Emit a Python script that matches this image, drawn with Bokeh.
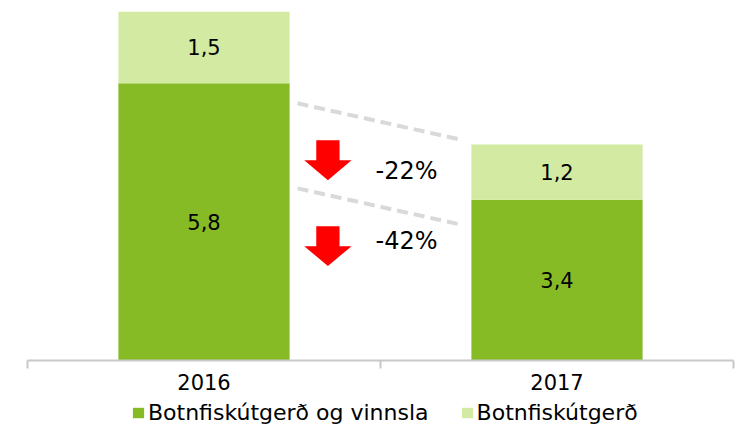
from bokeh.plotting import figure
from bokeh.layouts import column
from bokeh.models import Range1d, FixedTicker, Legend, LegendItem, ColumnDataSource
from bokeh.core.properties import value
from bokeh.embed import file_html
from bokeh.resources import INLINE

# ---- data ----
years = ["2016", "2017"]
vinnsla = [5.8, 3.36]      # Botnfiskútgerð og vinnsla
utgerd = [1.5, 1.16]       # Botnfiskútgerð
series_names = ["Botnfiskútgerð og vinnsla", "Botnfiskútgerð"]
change_labels = ["-22%", "-42%"]

# ---- annotation geometry (data units) ----
arrow_x = 0.851
arrow_half_shaft = 0.033
arrow_half_head = 0.067
arrows = [(4.607, 4.189, 3.771), (2.810, 2.392, 1.975)]  # top, head start, tip
change_x = 0.986
change_y = [3.96, 2.49]
dash_x = (0.765, 1.235)
dash_y = [(5.38, 4.607), (3.60, 2.83)]

DARK = "#87BB26"
LIGHT = "#D3EAA2"
COLORS = [DARK, LIGHT]
FONT = "DejaVu Sans"

totals = [a + b for a, b in zip(vinnsla, utgerd)]
xpos = [i + 0.5 for i in range(len(years))]

p = figure(width=735, height=399, output_backend="svg", toolbar_location=None,
           x_range=Range1d(0, len(years)), y_range=Range1d(0, max(totals)),
           min_border_left=27, min_border_right=2, min_border_top=11, min_border_bottom=39)
p.outline_line_color = None
p.grid.visible = False
p.yaxis.visible = False

src = ColumnDataSource(dict(x=xpos, vinnsla=vinnsla, utgerd=utgerd))
p.vbar_stack(["vinnsla", "utgerd"], x="x", width=0.485, source=src,
             color=COLORS, line_color=None)

# value labels
fmt = lambda v: f"{v:.1f}".replace(".", ",")
lab_src = ColumnDataSource(dict(
    x=xpos + xpos,
    y=[v / 2 for v in vinnsla] + [a + b / 2 for a, b in zip(vinnsla, utgerd)],
    t=[fmt(v) for v in vinnsla] + [fmt(v) for v in utgerd]))
p.text(x="x", y="y", text="t", source=lab_src, text_align="center", text_baseline="middle",
       text_font=value(FONT), text_font_size="21px", text_color="#000000")

# dashed connector lines
for y0, y1 in dash_y:
    p.line([dash_x[0], dash_x[1]], [y0, y1], line_color="#D9D9D9", line_width=4, line_dash="11 6")

# arrows
xs, ys = [], []
for top, head, tip in arrows:
    xs.append([arrow_x - arrow_half_shaft, arrow_x + arrow_half_shaft, arrow_x + arrow_half_shaft,
               arrow_x + arrow_half_head, arrow_x, arrow_x - arrow_half_head, arrow_x - arrow_half_shaft])
    ys.append([top, top, head, head, tip, head, head])
p.patches(xs, ys, fill_color="#FF0000", line_color=None)

p.text(x=[change_x] * len(change_labels), y=change_y, text=change_labels, text_align="left",
       text_baseline="middle", text_font=value(FONT), text_font_size="24px", text_color="#000000")

# axis
ax = p.xaxis[0]
ax.ticker = FixedTicker(ticks=xpos, minor_ticks=list(range(len(years) + 1)))
ax.major_label_overrides = {x: y for x, y in zip(xpos, years)}
ax.axis_line_color = "#C8C8C8"
ax.axis_line_width = 2
ax.major_tick_line_color = None
ax.major_tick_in = 0
ax.major_tick_out = 0
ax.minor_tick_line_color = "#C8C8C8"
ax.minor_tick_line_width = 2
ax.minor_tick_in = 0
ax.minor_tick_out = 8
ax.major_label_text_font = FONT
ax.major_label_text_font_size = "21px"
ax.major_label_text_color = "#000000"
ax.major_label_standoff = 5

# legend strip
lg = figure(width=735, height=26, output_backend="svg", toolbar_location=None,
            x_range=Range1d(0, 1), y_range=Range1d(0, 1),
            x_axis_location=None, y_axis_location=None,
            min_border_left=0, min_border_right=0, min_border_top=0, min_border_bottom=0)
lg.outline_line_color = None
lg.grid.visible = False
items = []
for name, c in zip(series_names, COLORS):
    # placeholder quad outside the visible range: only its legend swatch is seen
    r = lg.quad(left=[-3], right=[-2], top=[-2], bottom=[-3], fill_color=c, line_color=None)
    items.append(LegendItem(label=name, renderers=[r]))
legend = Legend(items=items, orientation="horizontal", location=(104, 0),
                label_text_font=FONT, label_text_font_size="22px", label_text_color="#000000",
                glyph_width=14, glyph_height=13, label_standoff=3, spacing=31,
                padding=0, margin=0, border_line_color=None, background_fill_alpha=0)
lg.add_layout(legend)

open("out.html", "w").write(file_html(column(p, lg), INLINE))
